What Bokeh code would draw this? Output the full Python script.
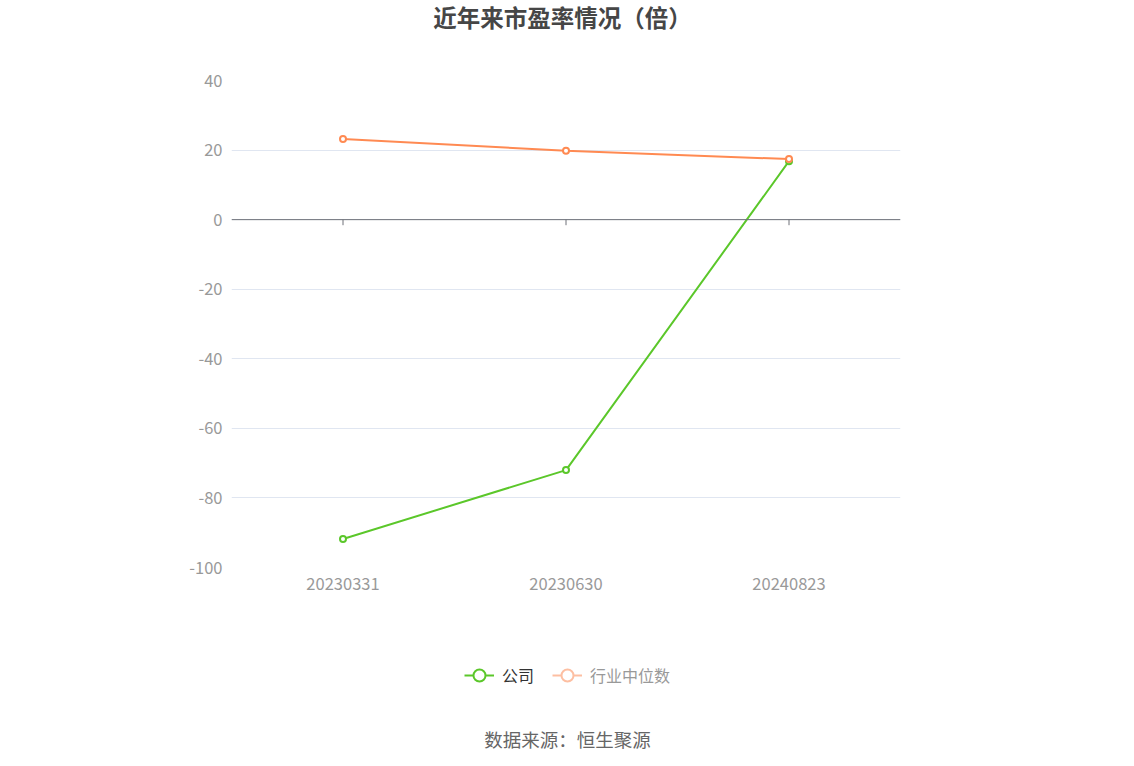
from bokeh.plotting import figure
from bokeh.layouts import column
from bokeh.models import (ColumnDataSource, FixedTicker, Label, Legend, LegendItem, Span)
from bokeh.embed import file_html
from bokeh.resources import INLINE

# data
dates = ['20230331', '20230630', '20240823']
company_pe = [-91.8, -72.0, 16.8]
industry_pe = [23.2, 19.8, 17.4]
y_ticks = [40, 20, 0, -20, -40, -60, -80, -100]

title_text = '近年来市盈率情况（倍）'
source_text = '数据来源：恒生聚源'
series_names = ['公司', '行业中位数']

green = '#5BC72A'
orange = '#FF8A52'
orange_faded = '#FDBFA2'
font = 'Noto Sans CJK SC'

src = ColumnDataSource(data=dict(date=dates, company=company_pe, industry=industry_pe,
                                 base=[0] * len(dates), tick=[-1.6] * len(dates)))


def blank_figure(height):
    b = figure(width=1126, height=height, x_range=(0, 1), y_range=(0, 1),
               x_axis_type=None, y_axis_type=None, output_backend="svg",
               toolbar_location=None, min_border=0)
    b.outline_line_color = None
    b.grid.grid_line_color = None
    return b


# header with title (frames line up with the chart below)
h = blank_figure(68)
h.add_layout(Label(x=331, y=52, x_units='screen', y_units='screen', text=title_text,
                   text_align='center', text_baseline='middle', text_font=font,
                   text_font_size='23.5px', text_font_style='bold', text_color='#464646'))

# main chart
p = figure(width=1126, height=532, x_range=dates, y_range=(-100, 40),
           output_backend="svg", toolbar_location=None,
           min_border_left=231, min_border_right=226, min_border_top=12, min_border_bottom=33)
p.outline_line_color = None

p.yaxis.ticker = FixedTicker(ticks=y_ticks)
p.yaxis.major_label_overrides = {t: str(t) for t in y_ticks}
p.yaxis.axis_line_color = None
p.yaxis.major_tick_line_color = None
p.yaxis.minor_tick_line_color = None
p.yaxis.major_tick_out = 0
p.yaxis.major_label_text_color = '#999999'
p.yaxis.major_label_text_font_size = '16.5px'
p.yaxis.major_label_text_font = font
p.yaxis.major_label_standoff = 9

p.xaxis.axis_line_color = None
p.xaxis.major_tick_line_color = None
p.xaxis.minor_tick_line_color = None
p.xaxis.major_tick_out = 0
p.xaxis.major_label_text_color = '#999999'
p.xaxis.major_label_text_font_size = '16.5px'
p.xaxis.major_label_text_font = font
p.xaxis.major_label_standoff = 10

p.xgrid.grid_line_color = None
p.ygrid.ticker = FixedTicker(ticks=y_ticks)
p.ygrid.grid_line_color = '#E0E6F1'

# zero axis line with ticks
p.add_layout(Span(location=0, dimension='width', line_color='#6E7079', line_width=1))
p.segment(x0='date', y0='base', x1='date', y1='tick', source=src, line_color='#6E7079', line_width=1)

# series
p.line('date', 'company', source=src, line_color=green, line_width=2)
p.scatter('date', 'company', source=src, size=6, marker='circle',
          line_color=green, line_width=2, fill_color='white')
p.line('date', 'industry', source=src, line_color=orange, line_width=2)
p.scatter('date', 'industry', source=src, size=6, marker='circle',
          line_color=orange, line_width=2, fill_color='white')

# footer with legend and source
f = blank_figure(158)
nan_src = ColumnDataSource(data=dict(x=[float('nan')], y=[float('nan')]))
g1 = f.line('x', 'y', source=nan_src, line_color=green, line_width=2)
m1 = f.scatter('x', 'y', source=nan_src, line_color=green, line_width=2, fill_color='white')
g2 = f.line('x', 'y', source=nan_src, line_color=orange_faded, line_width=2)
m2 = f.scatter('x', 'y', source=nan_src, line_color=orange_faded, line_width=2, fill_color='white')


def make_legend(label, renderers, loc, color):
    lg = Legend(items=[LegendItem(label=label, renderers=renderers)], location=loc,
                orientation='horizontal', glyph_width=30, glyph_height=30,
                label_text_font=font, label_text_font_size='16px', label_text_color=color,
                label_standoff=8, padding=0, margin=0, spacing=0,
                border_line_color=None, background_fill_alpha=0)
    f.add_layout(lg, 'center')


make_legend(series_names[0], [g1, m1], (233, 68), '#333333')
make_legend(series_names[1], [g2, m2], (321, 68), '#999999')

f.add_layout(Label(x=336, y=20, x_units='screen', y_units='screen', text=source_text,
                   text_align='center', text_baseline='middle', text_font=font,
                   text_font_size='18.5px', text_color='#666666'))

open("out.html", "w").write(file_html(column(h, p, f, spacing=0), INLINE))
